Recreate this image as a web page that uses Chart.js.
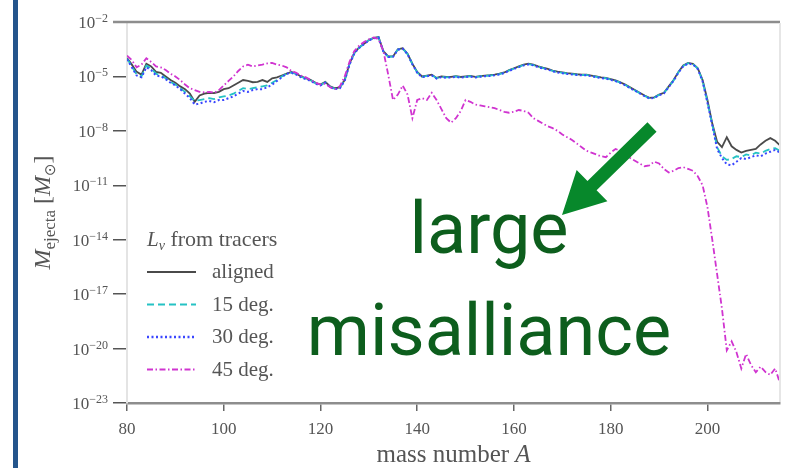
<!DOCTYPE html>
<html>
<head>
<meta charset="utf-8">
<script src="https://cdn.jsdelivr.net/npm/chart.js@4.4.1/dist/chart.umd.min.js"></script>
<style>
  html, body { margin: 0; padding: 0; background: #fff; }
  canvas { display: block; }
</style>
</head>
<body>
<canvas id="ejecta" width="800" height="468"></canvas>
<script>
// ejecta mass per mass number, log10(M / Msun)
const massNumber = [
  80, 81, 82, 83, 84, 85, 86, 87, 88, 89, 90, 91, 92, 93, 94, 95, 96, 97, 98, 99,
  100, 101, 102, 103, 104, 105, 106, 107, 108, 109, 110, 111, 112, 113, 114, 115, 116, 117, 118, 119,
  120, 121, 122, 123, 124, 125, 126, 127, 128, 129, 130, 131, 132, 133, 134, 135, 136, 137, 138, 139,
  140, 141, 142, 143, 144, 145, 146, 147, 148, 149, 150, 151, 152, 153, 154, 155, 156, 157, 158, 159,
  160, 161, 162, 163, 164, 165, 166, 167, 168, 169, 170, 171, 172, 173, 174, 175, 176, 177, 178, 179,
  180, 181, 182, 183, 184, 185, 186, 187, 188, 189, 190, 191, 192, 193, 194, 195, 196, 197, 198, 199,
  200, 201, 202, 203, 204, 205, 206, 207, 208, 209, 210, 211, 212, 213, 214, 215
];

const logAligned = [
  -3.98, -4.35, -4.75, -4.9, -4.3, -4.45, -4.75, -4.8, -5.0, -5.2, -5.35, -5.55, -5.7, -5.95, -6.4, -6.05, -5.95, -5.9, -5.92, -5.85,
  -5.7, -5.65, -5.5, -5.35, -5.2, -5.25, -5.32, -5.3, -5.2, -5.3, -5.1, -5.05, -4.95, -4.85, -4.75, -4.85, -5.0, -5.1, -5.2, -5.35,
  -5.45, -5.3, -5.55, -5.65, -5.6, -5.2, -4.3, -3.7, -3.4, -3.2, -3.0, -2.88, -2.83, -3.6, -3.9, -3.9, -3.5, -3.45, -3.75, -4.3,
  -4.75, -5.0, -4.95, -4.9, -5.08, -5.0, -5.03, -5.02, -4.98, -5.03, -5.0, -4.97, -5.02, -4.98, -4.95, -4.93, -4.9, -4.85, -4.78, -4.65,
  -4.55, -4.45, -4.35, -4.3, -4.35, -4.45, -4.52, -4.58, -4.68, -4.74, -4.78, -4.82, -4.85, -4.88, -4.9, -4.9, -4.95, -5.0, -5.05, -5.08,
  -5.15, -5.22, -5.32, -5.45, -5.6, -5.75, -5.9, -6.05, -6.18, -6.15, -6.0, -5.9, -5.55, -5.2, -4.75, -4.4, -4.25, -4.3, -4.55, -5.2,
  -6.3, -7.6, -8.6, -8.9, -8.35, -8.85, -9.05, -9.2, -9.1, -9.05, -9.0, -8.75, -8.55, -8.4, -8.55, -8.8
];

const log15deg = [
  -4.02, -4.45, -4.9, -5.0, -4.4, -4.55, -4.85, -4.95, -5.1, -5.3, -5.45, -5.65, -5.85, -6.1, -6.35, -6.3, -6.25, -6.2, -6.25, -6.15,
  -6.1, -6.05, -5.95, -5.8, -5.65, -5.7, -5.65, -5.6, -5.55, -5.5, -5.35, -5.2, -5.0, -4.85, -4.78, -4.88, -5.02, -5.12, -5.22, -5.38,
  -5.48, -5.33, -5.58, -5.68, -5.62, -5.22, -4.32, -3.72, -3.42, -3.2, -3.0, -2.88, -2.84, -3.62, -3.92, -3.9, -3.52, -3.46, -3.77, -4.32,
  -4.78, -5.02, -4.97, -4.92, -5.1, -5.02, -5.05, -5.03, -5.0, -5.05, -5.02, -4.99, -5.04, -5.0, -4.97, -4.95, -4.92, -4.87, -4.8, -4.67,
  -4.57, -4.47, -4.37, -4.32, -4.37, -4.47, -4.54, -4.6, -4.7, -4.76, -4.8, -4.84, -4.87, -4.9, -4.92, -4.92, -4.97, -5.02, -5.07, -5.1,
  -5.17, -5.24, -5.34, -5.47, -5.62, -5.77, -5.92, -6.07, -6.2, -6.17, -6.02, -5.92, -5.57, -5.22, -4.77, -4.42, -4.27, -4.32, -4.57, -5.25,
  -6.4, -7.65, -8.9, -9.4, -9.6, -9.55, -9.4, -9.45, -9.3, -9.35, -9.2, -9.25, -9.1, -9.0, -8.95, -9.1
];

const log30deg = [
  -4.05, -4.5, -4.95, -5.05, -4.5, -4.65, -4.95, -5.0, -5.15, -5.35, -5.5, -5.7, -5.95, -6.2, -6.55, -6.5, -6.4, -6.35, -6.42, -6.3,
  -6.3, -6.2, -6.1, -5.95, -5.8, -5.85, -5.75, -5.7, -5.7, -5.6, -5.45, -5.25, -5.05, -4.85, -4.8, -4.9, -5.05, -5.15, -5.25, -5.4,
  -5.5, -5.35, -5.6, -5.7, -5.65, -5.25, -4.35, -3.73, -3.43, -3.22, -3.02, -2.9, -2.85, -3.63, -3.93, -3.92, -3.53, -3.47, -3.78, -4.33,
  -4.8, -5.04, -4.99, -4.94, -5.12, -5.04, -5.07, -5.05, -5.02, -5.07, -5.04, -5.01, -5.06, -5.02, -4.99, -4.97, -4.94, -4.89, -4.82, -4.69,
  -4.59, -4.49, -4.39, -4.34, -4.39, -4.49, -4.56, -4.62, -4.72, -4.78, -4.82, -4.86, -4.89, -4.92, -4.94, -4.94, -4.99, -5.04, -5.09, -5.12,
  -5.19, -5.26, -5.36, -5.49, -5.64, -5.79, -5.94, -6.09, -6.22, -6.19, -6.04, -5.94, -5.59, -5.24, -4.79, -4.44, -4.29, -4.34, -4.59, -5.28,
  -6.45, -7.7, -9.0, -9.5, -9.85, -9.9, -9.7, -9.5, -9.55, -9.45, -9.35, -9.4, -9.25, -9.15, -9.05, -9.2
];

const log45deg = [
  -3.85, -4.1, -4.5, -4.35, -4.0, -4.2, -4.45, -4.5, -4.65, -4.85, -5.0, -5.2, -5.45, -5.65, -5.75, -5.85, -5.88, -5.85, -5.9, -5.75,
  -5.5, -5.25, -5.0, -4.7, -4.45, -4.35, -4.45, -4.4, -4.35, -4.28, -4.25, -4.35, -4.4, -4.5, -4.7, -4.8, -4.95, -5.05, -5.2, -5.35,
  -5.45, -5.4, -5.6, -5.7, -5.55, -5.0, -4.2, -3.6, -3.3, -3.1, -2.95, -2.85, -2.95, -3.6, -4.9, -6.3, -6.0, -5.5, -6.0, -7.3,
  -6.3, -6.2, -6.3, -5.9, -6.3, -6.8, -7.3, -7.55, -7.3, -6.9, -6.3, -6.4, -6.55, -6.6, -6.65, -6.7, -6.75, -6.85, -6.95, -7.0,
  -6.95, -6.85, -6.9, -7.0, -7.3, -7.45, -7.6, -7.75, -7.85, -8.0, -8.2, -8.35, -8.5, -8.7, -8.9, -9.1, -9.2, -9.3, -9.4, -9.45,
  -9.2, -9.0, -9.1, -9.4, -9.5, -9.65, -9.8, -9.95, -9.9, -9.7, -9.8, -10.1, -10.3, -10.2, -10.05, -10.0, -10.1, -10.2, -10.5, -11.0,
  -12.2, -14.0, -15.9, -17.8, -20.1, -19.6, -20.2, -21.1, -20.3, -20.9, -21.3, -21.0, -21.3, -21.45, -21.1, -21.9
];

const seriesLabels = ['aligned', '15 deg.', '30 deg.', '45 deg.'];
const yTickExponents = [-23, -20, -17, -14, -11, -8, -5, -2];
const xTicks = [80, 100, 120, 140, 160, 180, 200];

const SERIF = '"Liberation Serif", "DejaVu Serif", serif';
const INK = '#555';

function toPoints(logs) {
  return massNumber.map((a, i) => ({ x: a, y: Math.pow(10, logs[i]) }));
}

// draw a run of text pieces (italic, subscripts...) left to right
function drawRuns(ctx, x, y, runs) {
  let cx = x;
  runs.forEach(r => {
    ctx.font = r.font;
    ctx.fillText(r.text, cx, y + (r.dy || 0));
    cx += ctx.measureText(r.text).width;
  });
  return cx;
}
function runsWidth(ctx, runs) {
  let w = 0;
  runs.forEach(r => { ctx.font = r.font; w += ctx.measureText(r.text).width; });
  return w;
}

const decorations = {
  id: 'decorations',
  beforeDraw(chart) {
    const ctx = chart.ctx;
    ctx.save();
    ctx.fillStyle = '#fff';
    ctx.fillRect(0, 0, chart.width, chart.height);
    // side bar
    ctx.fillStyle = '#24558c';
    ctx.fillRect(13, 0, 5, chart.height);
    ctx.restore();
  },
  afterDraw(chart) {
    const ctx = chart.ctx;
    const area = chart.chartArea;
    const ys = chart.scales.y;
    ctx.save();

    // top and right spines
    ctx.strokeStyle = '#8d8d8d';
    ctx.lineWidth = 2.5;
    ctx.beginPath();
    ctx.moveTo(area.left - 14, area.top);
    ctx.lineTo(area.right, area.top);
    ctx.stroke();
    ctx.strokeStyle = '#e6e6e6';
    ctx.lineWidth = 2;
    ctx.beginPath();
    ctx.moveTo(area.right, area.top + 1);
    ctx.lineTo(area.right, area.bottom - 1);
    ctx.stroke();

    // y tick labels 10^-n
    ctx.fillStyle = INK;
    ctx.textAlign = 'left';
    ctx.textBaseline = 'alphabetic';
    ys.ticks.forEach(t => {
      const py = ys.getPixelForValue(t.value);
      const exp = Math.round(Math.log10(t.value));
      const runs = [
        { text: '10', font: '17px ' + SERIF, dy: 6 },
        { text: '\u2212' + Math.abs(exp), font: '12px ' + SERIF, dy: 0 }
      ];
      const w = runsWidth(ctx, runs);
      drawRuns(ctx, area.left - 19 - w, py, runs);
    });

    // y axis title
    ctx.save();
    ctx.translate(42, (area.top + area.bottom) / 2);
    ctx.rotate(-Math.PI / 2);
    const yTitle = [
      { text: 'M', font: 'italic 24px ' + SERIF },
      { text: 'ejecta', font: '17px ' + SERIF, dy: 5 },
      { text: ' [', font: '24px ' + SERIF },
      { text: 'M', font: 'italic 24px ' + SERIF },
      { text: '\u2299', font: '15px "DejaVu Sans", sans-serif', dy: 5 },
      { text: ']', font: '24px ' + SERIF }
    ];
    drawRuns(ctx, -runsWidth(ctx, yTitle) / 2, 8, yTitle);
    ctx.restore();

    // x axis title
    const xTitle = [
      { text: 'mass number ', font: '25px ' + SERIF },
      { text: 'A', font: 'italic 25px ' + SERIF }
    ];
    drawRuns(ctx, (area.left + area.right) / 2 - runsWidth(ctx, xTitle) / 2, 462, xTitle);

    // legend
    const lx = area.left + 20;
    drawRuns(ctx, lx, 246, [
      { text: 'L', font: 'italic 21px ' + SERIF },
      { text: '\u03bd', font: 'italic 14px ' + SERIF, dy: 4 },
      { text: ' from tracers', font: '22px ' + SERIF }
    ]);
    chart.data.datasets.forEach((ds, i) => {
      const ry = 272 + i * 32.5;
      ctx.strokeStyle = ds.borderColor;
      ctx.lineWidth = ds.borderWidth + 0.3;
      ctx.setLineDash(ds.borderDash || []);
      ctx.beginPath();
      ctx.moveTo(lx, ry);
      ctx.lineTo(lx + 49, ry);
      ctx.stroke();
      ctx.setLineDash([]);
      ctx.fillStyle = INK;
      ctx.font = '21px ' + SERIF;
      ctx.fillText(ds.label, lx + 65, ry + 6);
    });

    // overlay note with arrow
    ctx.fillStyle = '#0d5e1d';
    ctx.font = '72px Roboto, "Open Sans", sans-serif';
    ctx.textAlign = 'center';
    ctx.fillText('large', 489, 253);
    ctx.fillText('misalliance', 489, 355);

    const tail = { x: 652, y: 127 }, tip = { x: 562, y: 215 };
    const dx = tip.x - tail.x, dy = tip.y - tail.y;
    const len = Math.hypot(dx, dy);
    const ux = dx / len, uy = dy / len, nx = -uy, ny = ux;
    const headLen = 42, headHalf = 22, shaftHalf = 6.5;
    const bx = tip.x - ux * headLen, by = tip.y - uy * headLen;
    ctx.fillStyle = '#07882b';
    ctx.beginPath();
    ctx.moveTo(tail.x + nx * shaftHalf, tail.y + ny * shaftHalf);
    ctx.lineTo(bx + nx * shaftHalf, by + ny * shaftHalf);
    ctx.lineTo(bx + nx * headHalf, by + ny * headHalf);
    ctx.lineTo(tip.x, tip.y);
    ctx.lineTo(bx - nx * headHalf, by - ny * headHalf);
    ctx.lineTo(bx - nx * shaftHalf, by - ny * shaftHalf);
    ctx.lineTo(tail.x - nx * shaftHalf, tail.y - ny * shaftHalf);
    ctx.closePath();
    ctx.fill();

    ctx.restore();
  }
};

Chart.defaults.font.family = SERIF;

const chart = new Chart(document.getElementById('ejecta'), {
  type: 'line',
  data: {
    datasets: [
      { label: seriesLabels[0], data: toPoints(logAligned), borderColor: '#4a4a4a', borderWidth: 1.8, order: 4 },
      { label: seriesLabels[1], data: toPoints(log15deg), borderColor: '#25c2c4', borderWidth: 1.8, borderDash: [7, 4], order: 3 },
      { label: seriesLabels[2], data: toPoints(log30deg), borderColor: '#3a46ff', borderWidth: 2, borderDash: [2, 2.5], order: 2 },
      { label: seriesLabels[3], data: toPoints(log45deg), borderColor: '#d034d0', borderWidth: 1.8, borderDash: [6, 2.5, 1.5, 2.5], order: 1 }
    ]
  },
  options: {
    responsive: false,
    animation: false,
    devicePixelRatio: 1,
    layout: { padding: { top: 22, right: 20, left: 0, bottom: 0 } },
    elements: { point: { radius: 0 }, line: { tension: 0, fill: false } },
    plugins: { legend: { display: false }, tooltip: { enabled: false } },
    scales: {
      x: {
        type: 'linear',
        min: 80,
        max: 215,
        afterBuildTicks: axis => { axis.ticks = xTicks.map(v => ({ value: v })); },
        afterFit: s => { s.height = 65; },
        ticks: { color: INK, font: { size: 17 }, padding: 8, maxRotation: 0 },
        grid: { drawOnChartArea: false, tickLength: 8, color: '#666', lineWidth: 1.5 },
        border: { color: '#8d8d8d', width: 2.5 }
      },
      y: {
        type: 'logarithmic',
        min: 1e-23,
        max: 1e-2,
        afterBuildTicks: axis => { axis.ticks = yTickExponents.map(e => ({ value: Math.pow(10, e) })); },
        afterFit: s => { s.width = 127; },
        ticks: { display: false },
        grid: { drawOnChartArea: false, tickLength: 14, color: '#555', lineWidth: 1.5 },
        border: { color: '#e4e4e4', width: 2 }
      }
    }
  },
  plugins: [decorations]
});
</script>
</body>
</html>
